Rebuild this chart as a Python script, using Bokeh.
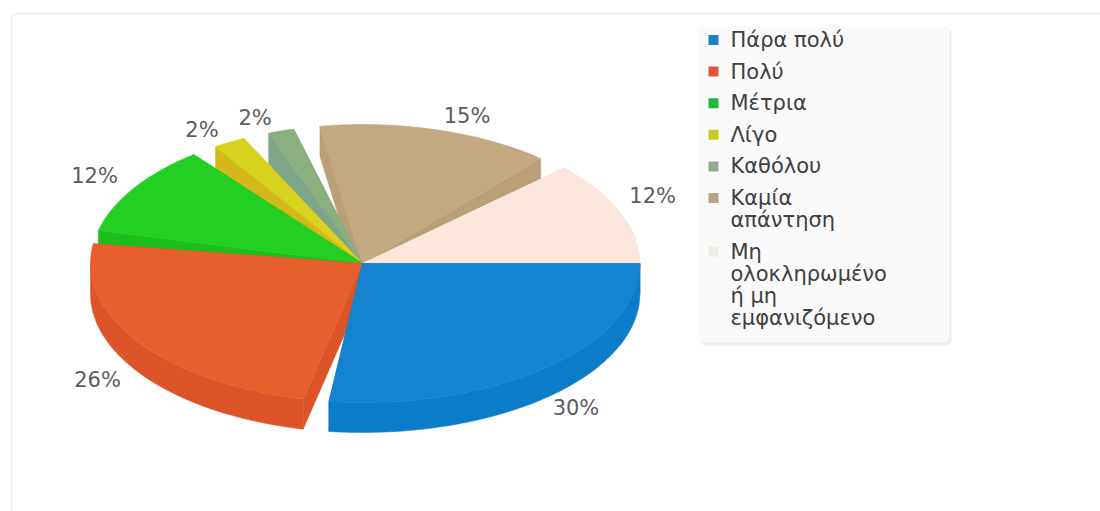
import numpy as np
from bokeh.plotting import figure
from bokeh.embed import file_html
from bokeh.resources import INLINE
from bokeh.core.properties import value

categories = ["Πάρα πολύ", "Πολύ", "Μέτρια", "Λίγο", "Καθόλου", "Καμία απάντηση", "Μη ολοκληρωμένο ή μη εμφανιζόμενο"]
legend_lines = [["Πάρα πολύ"], ["Πολύ"], ["Μέτρια"], ["Λίγο"], ["Καθόλου"], ["Καμία", "απάντηση"],
                ["Μη", "ολοκληρωμένο", "ή μη", "εμφανιζόμενο"]]
percent_labels = ["30%", "26%", "12%", "2%", "2%", "15%", "12%"]
# wedge shares
shares = [29.7, 26.2, 11.6, 2.1, 1.7, 15.3, 13.3]

top_colors = ["#1583cf", "#e85f2e", "#22cf22", "#d6d21e", "#8bb080", "#c4a882", "#fbe6dc"]
wall_colors = ["#0b7cc9", "#dd5428", "#1cbe1c", "#d4b81a", "#7fa58a", "#bb9f78", "#eadcd2"]
legend_colors = ["#1a7fc9", "#e5533f", "#22b83a", "#c8cc22", "#93a890", "#b5a585", "#f2ece8"]

W, H = 1100, 511
p = figure(width=W, height=H, x_range=(0, W), y_range=(H, 0), output_backend="svg",
           toolbar_location=None, min_border=0, outline_line_color=None)
p.axis.visible = False
p.grid.visible = False

# card
p.quad(left=[11], right=[1130], top=[13], bottom=[540], fill_color="white", line_color="#eeeeee",
       line_width=2, border_radius=6)

# pie geometry
cx, cy, rx, ry, depth = 362, 263, 272, 139, 30
gap = 5.65
unit = (360 - gap * (len(shares) - 1)) / sum(shares)
x_scale = [1.02, 1.0, 1.0, 1.0, 1.0, 1.0, 1.02]
spans = [s * unit for s in shares]
starts = []
a = 0.0
for s in spans:
    starts.append(a)
    a += s + gap

def pt(deg, k):
    t = np.radians(deg)
    return cx + rx * k * np.cos(t), cy + ry * np.sin(t)

order = [5, 4, 3, 2, 6, 1, 0]
for i in order:
    a0, a1, k = starts[i], starts[i] + spans[i], x_scale[i]
    angs = np.linspace(a0, a1, 60)
    xs, ys = pt(angs, k)
    # radial walls
    for rim in ((xs[0], ys[0]), (xs[-1], ys[-1])):
        p.patch([cx, rim[0], rim[0], cx], [cy, rim[1], rim[1] + depth, cy + depth],
                fill_color=wall_colors[i], line_color=wall_colors[i], line_width=0.5)
    # outer wall, front facing part only
    lo, hi = max(a0, 0), min(a1, 180)
    if hi > lo:
        w = np.linspace(lo, hi, 60)
        wx, wy = pt(w, k)
        p.patch(list(wx) + list(wx[::-1]), list(wy) + list(wy[::-1] + depth),
                fill_color=wall_colors[i], line_color=wall_colors[i], line_width=0.5)
    p.patch([cx] + list(xs), [cy] + list(ys), fill_color=top_colors[i], line_color=top_colors[i], line_width=0.5)

# percent labels
nudge_x = [0, 0, 3, -3, -11, 16, -9]
nudge_y = [0, 0, -5, 0, 0, 0, -11]
lx, ly = [], []
for i in range(len(shares)):
    mid = starts[i] + spans[i] / 2
    t = np.radians(mid)
    lx.append(cx + (rx + 50) * np.cos(t) + nudge_x[i])
    ly.append(cy + (ry + 14) * np.sin(t) + (depth if np.sin(t) > 0 else 0) + nudge_y[i])
p.text(lx, ly, text=percent_labels, text_font=value("DejaVu Sans"), text_font_size="21px",
       text_color="#5c5c5c", text_align="center", text_baseline="middle")

# legend
p.quad(left=[699], right=[951], top=[27], bottom=[345], fill_color="#eeeeee", line_color=None, border_radius=6)
p.quad(left=[697], right=[949], top=[25], bottom=[342], fill_color="#fafafa", line_color=None, border_radius=6)
y = 39.5
mx, my, mc, tx, ty, tt = [], [], [], [], [], []
for i, lines in enumerate(legend_lines):
    mx.append(713); my.append(y); mc.append(legend_colors[i])
    for j, ln in enumerate(lines):
        tx.append(730); ty.append(y + j * 22); tt.append(ln)
    y += (len(lines) - 1) * 22 + 31.6
p.rect(mx, my, width=10, height=10, fill_color=mc, line_color=None)
p.text(tx, ty, text=tt, text_font=value("DejaVu Sans"), text_font_size="21px", text_color="#404040",
       text_align="left", text_baseline="middle")

open("out.html", "w").write(file_html(p, INLINE))
